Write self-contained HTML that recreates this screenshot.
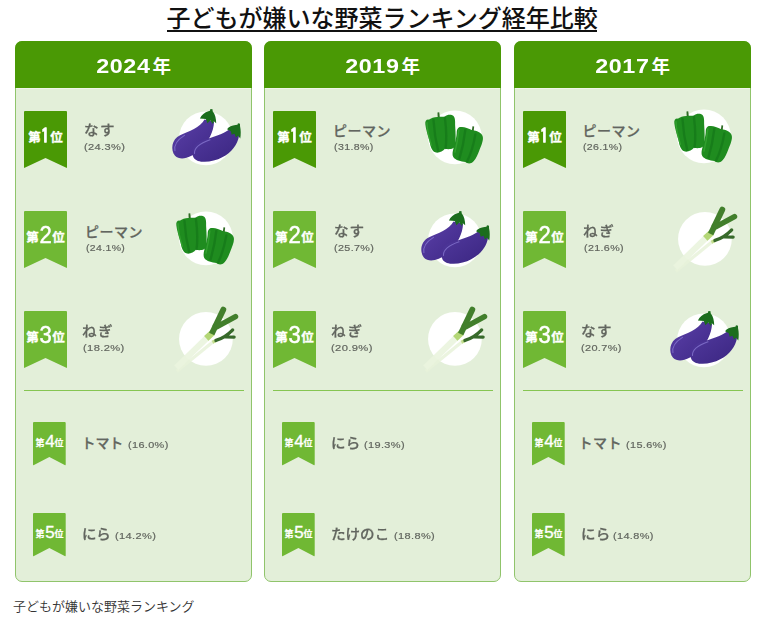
<!DOCTYPE html>
<html lang="ja">
<head>
<meta charset="utf-8">
<title>子どもが嫌いな野菜ランキング経年比較</title>
<style>
html,body{margin:0;padding:0;background:#fff;}
body{width:771px;height:636px;position:relative;overflow:hidden;font-family:"Liberation Sans","Noto Sans CJK JP",sans-serif;}
.title{position:absolute;left:166.5px;top:3px;height:32px;font-size:24px;line-height:32px;font-weight:500;color:#111;white-space:nowrap;letter-spacing:0;}
.uline{position:absolute;left:167px;top:30px;width:430px;height:2px;background:#111;}
.panel{position:absolute;top:41px;width:237px;height:541px;box-sizing:border-box;border:1px solid #90c46b;border-radius:7px;background:#e3efd9;}
.hd{position:absolute;left:-1px;top:-1px;right:-1px;height:47px;border-radius:7px 7px 0 0;background:#4a9905;color:#fff;text-align:center;font-weight:bold;line-height:50px;white-space:nowrap;}
.hl{position:absolute;left:0;right:0;top:46px;height:1px;background:rgba(255,255,255,.45);}
.hd .d{display:inline-block;font-size:21px;letter-spacing:.5px;transform:scaleX(1.11);margin:0 4.4px 0 3.5px;}
.hd .y{display:inline-block;font-size:18.5px;}
.badge{position:absolute;left:8px;width:43px;height:57px;}
.badge svg,.sb svg{position:absolute;left:0;top:0;}
.badge .t{position:absolute;left:0;top:0;width:43px;height:47px;color:#fff;font-weight:bold;text-align:center;white-space:nowrap;line-height:55px;font-size:12.5px;-webkit-text-stroke:.3px #fff;}
.badge .t b{display:inline-block;font-size:24px;font-weight:normal;-webkit-text-stroke:.5px #fff;vertical-align:-0.7px;transform:scaleX(.92);margin:0 .4px 0 -.1px;line-height:20px;}
.badge .t b.one{font-family:"IPAGothic","NanumGothic",sans-serif;font-weight:bold;-webkit-text-stroke:.4px #fff;font-size:20.3px;transform:scaleX(.82);margin:0 -.2px 0 -.3px;vertical-align:-0.8px;}
.sb{position:absolute;left:17px;width:33px;height:44px;}
.sb .t{position:absolute;left:0;top:0;width:33px;height:36px;color:#fff;font-weight:bold;text-align:center;white-space:nowrap;line-height:42px;font-size:9px;-webkit-text-stroke:.2px #fff;}
.sb .t b{display:inline-block;font-size:17px;font-weight:normal;-webkit-text-stroke:.35px #fff;vertical-align:-0.5px;margin:0 -.2px 0 .9px;line-height:16px;}
.nm{position:absolute;font-size:14px;font-weight:500;-webkit-text-stroke:.25px #62665f;color:#62665f;white-space:nowrap;line-height:18px;transform-origin:0 50%;}
.pc{position:absolute;font-size:9px;color:#62665f;white-space:nowrap;line-height:12px;letter-spacing:.3px;font-weight:normal;-webkit-text-stroke:.18px #62665f;transform-origin:0 50%;}
.hr{position:absolute;left:7.5px;right:7.5px;top:347.5px;height:1px;background:#86c552;}
.ic{position:absolute;left:149px;width:90px;height:75px;}
.cap{position:absolute;left:13px;top:597px;font-size:13px;font-weight:350;line-height:20px;color:#333;white-space:nowrap;}
</style>
</head>
<body>
<svg width="0" height="0" style="position:absolute"><defs>
<linearGradient id="gE1" x1="0" y1="0" x2="1" y2="1"><stop offset="0" stop-color="#5b40a8"/><stop offset="1" stop-color="#3e2886"/></linearGradient>
<linearGradient id="gE2" x1="0" y1="0" x2="1" y2="1"><stop offset="0" stop-color="#523a9f"/><stop offset="1" stop-color="#3a2580"/></linearGradient>
<filter id="fB" x="-10%" y="-10%" width="120%" height="120%"><feGaussianBlur stdDeviation="4"/></filter>
</defs></svg>
<div class="title">子どもが嫌いな野菜ランキング経年比較</div>
<div class="uline"></div>

<div class="panel" style="left:15px">
  <div class="hd"><span class="d">2024</span><span class="y">年</span></div><div class="hl"></div>
  <div class="badge" style="top:69px"><svg width="43" height="57"><path d="M1 0H42Q43 0 43 1V56Q43 57.5 41.8 56.6L21.5 47L1.2 56.6Q0 57.5 0 56V1Q0 0 1 0Z" fill="#4a9905"/></svg><div class="t">第<b class="one">1</b>位</div></div>
  <div class="nm" style="left:67.92px;top:79.1px;letter-spacing:1.41px;transform:scaleX(1.04);">なす</div>
  <div class="pc" style="left:68.38px;top:99.1px;transform:scaleX(1.231)">(24.3%)</div>
  <div class="ic" style="left:149.0px;top:58.0px"><svg width="90" height="75" viewBox="0 0 763 636">
<circle cx="347" cy="325" r="228" fill="#fff" filter="url(#fB)"/>
<path d="M335 165C300 230 200 268 128 298C55 330 45 425 85 472C130 520 225 490 295 425C372 352 412 270 416 185Z" fill="url(#gE1)"/>
<path d="M84 430C76 385 100 340 165 300" fill="none" stroke="#8675cf" stroke-width="9" stroke-linecap="round" opacity=".8"/>
<path d="M296 156C308 128 338 104 368 96L381 92L385 76L403 79L404 96C426 122 434 160 434 198L414 180L405 204L384 174L360 197L346 162Z" fill="#1b6d1d"/>
<path d="M548 248C490 290 400 318 324 340C238 365 214 436 243 489C276 542 405 530 485 486C565 442 615 380 628 300Z" fill="url(#gE2)"/>
<path d="M250 454C246 405 296 368 382 338" fill="none" stroke="#8675cf" stroke-width="9" stroke-linecap="round" opacity=".8"/>
<path d="M526 248C540 228 570 214 598 212L614 210L619 198L636 202L636 220C644 255 644 292 638 326L619 300L602 317L589 286L565 295L558 264Z" fill="#1b6d1d"/>
</svg></div>
  <div class="badge" style="top:169px"><svg width="43" height="57"><path d="M1 0H42Q43 0 43 1V56Q43 57.5 41.8 56.6L21.5 47L1.2 56.6Q0 57.5 0 56V1Q0 0 1 0Z" fill="#70b834"/></svg><div class="t">第<b>2</b>位</div></div>
  <div class="nm" style="left:68.97px;top:180.9px;letter-spacing:0.53px;">ピーマン</div>
  <div class="pc" style="left:69.72px;top:200.2px;transform:scaleX(1.166)">(24.1%)</div>
  <div class="ic" style="left:149.0px;top:158.0px"><svg width="90" height="75" viewBox="0 0 763 636">
<circle cx="347" cy="325" r="228" fill="#fff" filter="url(#fB)"/>
<path d="M201 158L199 114L214 113L219 158Z" fill="#2f6b25"/>
<path d="M96 215C92 190 105 172 125 175C145 160 175 150 205 152C225 150 245 152 262 148C280 130 320 128 335 145C352 165 348 200 349 230C352 280 356 340 350 390C345 425 300 430 262 422C245 445 205 462 180 452C150 440 140 400 132 360C118 310 100 260 96 215Z" fill="#1f8c1f"/>
<path d="M110 200C110 260 127 330 147 392" fill="none" stroke="#37a533" stroke-width="12" stroke-linecap="round" opacity=".8"/>
<path d="M165 178C170 260 185 360 205 440" fill="none" stroke="#15781a" stroke-width="20" stroke-linecap="round" opacity=".75"/>
<path d="M262 160C272 240 278 340 268 415" fill="none" stroke="#15781a" stroke-width="20" stroke-linecap="round" opacity=".75"/>
<path d="M490 270L496 231L510 234L506 274Z" fill="#2f6b25"/>
<path d="M362 290C362 255 375 235 400 238C425 235 460 250 494 266C530 268 572 285 582 315C592 345 572 390 556 430C540 470 528 505 505 528C485 552 455 552 435 535C400 530 350 520 333 492C318 465 335 420 345 380C355 340 360 320 362 290Z" fill="#1f8c1f"/>
<path d="M380 262C374 320 362 390 347 450" fill="none" stroke="#37a533" stroke-width="12" stroke-linecap="round" opacity=".8"/>
<path d="M435 262C425 350 405 440 385 505" fill="none" stroke="#15781a" stroke-width="20" stroke-linecap="round" opacity=".75"/>
<path d="M520 300C505 390 480 470 450 530" fill="none" stroke="#15781a" stroke-width="20" stroke-linecap="round" opacity=".75"/>
</svg></div>
  <div class="badge" style="top:269px"><svg width="43" height="57"><path d="M1 0H42Q43 0 43 1V56Q43 57.5 41.8 56.6L21.5 47L1.2 56.6Q0 57.5 0 56V1Q0 0 1 0Z" fill="#70b834"/></svg><div class="t">第<b>3</b>位</div></div>
  <div class="nm" style="left:66.19px;top:279.9px;letter-spacing:1.38px;transform:scaleX(1.04);">ねぎ</div>
  <div class="pc" style="left:66.58px;top:300.3px;transform:scaleX(1.237)">(18.2%)</div>
  <div class="ic" style="left:149.0px;top:258.0px"><svg width="90" height="75" viewBox="0 0 763 636">
<circle cx="347" cy="330" r="228" fill="#fff" filter="url(#fB)"/>
<path d="M100 605L408 354" stroke="#e7f2d9" stroke-opacity=".85" stroke-width="28" fill="none"/>
<path d="M402 358L436 341" stroke="#c3dd8d" stroke-width="28" fill="none"/>
<path d="M432 343C480 330 530 300 574 254M512 312L586 314" stroke="#386a2b" stroke-width="28" fill="none" stroke-linecap="round" stroke-linejoin="round"/>
<path d="M95 575L368 309" stroke="#eaf4de" stroke-opacity=".9" stroke-width="52" fill="none"/>
<path d="M350 326L403 277" stroke="#b4d776" stroke-width="54" fill="none"/>
<path d="M430 216L494 82" stroke="#427f2c" stroke-width="50" fill="none" stroke-linecap="round"/>
<path d="M396 288L432 212" stroke="#427f2c" stroke-width="50" fill="none"/>
<path d="M438 228L598 140" stroke="#427f2c" stroke-width="46" fill="none" stroke-linecap="round"/>
</svg></div>
  <div class="hr"></div>
  <div class="sb" style="top:380px"><svg width="33" height="44"><path d="M1 0H31.7Q32.7 0 32.7 1V42.2Q32.7 43.6 31.7 42.9L16.35 35L1 42.9Q0 43.6 0 42.2V1Q0 0 1 0Z" fill="#70b834"/></svg><div class="t">第<b>4</b>位</div></div>
  <div class="nm" style="left:65.60px;top:392.4px;letter-spacing:-0.15px;">トマト</div>
  <div class="pc" style="left:112.20px;top:396.8px;transform:scaleX(1.209)">(16.0%)</div>
  <div class="sb" style="top:471px"><svg width="33" height="44"><path d="M1 0H31.7Q32.7 0 32.7 1V42.2Q32.7 43.6 31.7 42.9L16.35 35L1 42.9Q0 43.6 0 42.2V1Q0 0 1 0Z" fill="#70b834"/></svg><div class="t">第<b>5</b>位</div></div>
  <div class="nm" style="left:66.19px;top:483.0px;letter-spacing:-0.16px;transform:scaleX(1.035);">にら</div>
  <div class="pc" style="left:99.29px;top:488.0px;transform:scaleX(1.228)">(14.2%)</div>
</div>
<div class="panel" style="left:264px">
  <div class="hd"><span class="d">2019</span><span class="y">年</span></div><div class="hl"></div>
  <div class="badge" style="top:69px"><svg width="43" height="57"><path d="M1 0H42Q43 0 43 1V56Q43 57.5 41.8 56.6L21.5 47L1.2 56.6Q0 57.5 0 56V1Q0 0 1 0Z" fill="#4a9905"/></svg><div class="t">第<b class="one">1</b>位</div></div>
  <div class="nm" style="left:67.97px;top:79.9px;letter-spacing:0.53px;">ピーマン</div>
  <div class="pc" style="left:68.51px;top:99.1px;transform:scaleX(1.178)">(31.8%)</div>
  <div class="ic" style="left:149.0px;top:56.5px"><svg width="90" height="75" viewBox="0 0 763 636">
<circle cx="347" cy="325" r="228" fill="#fff" filter="url(#fB)"/>
<path d="M201 158L199 114L214 113L219 158Z" fill="#2f6b25"/>
<path d="M96 215C92 190 105 172 125 175C145 160 175 150 205 152C225 150 245 152 262 148C280 130 320 128 335 145C352 165 348 200 349 230C352 280 356 340 350 390C345 425 300 430 262 422C245 445 205 462 180 452C150 440 140 400 132 360C118 310 100 260 96 215Z" fill="#1f8c1f"/>
<path d="M110 200C110 260 127 330 147 392" fill="none" stroke="#37a533" stroke-width="12" stroke-linecap="round" opacity=".8"/>
<path d="M165 178C170 260 185 360 205 440" fill="none" stroke="#15781a" stroke-width="20" stroke-linecap="round" opacity=".75"/>
<path d="M262 160C272 240 278 340 268 415" fill="none" stroke="#15781a" stroke-width="20" stroke-linecap="round" opacity=".75"/>
<path d="M490 270L496 231L510 234L506 274Z" fill="#2f6b25"/>
<path d="M362 290C362 255 375 235 400 238C425 235 460 250 494 266C530 268 572 285 582 315C592 345 572 390 556 430C540 470 528 505 505 528C485 552 455 552 435 535C400 530 350 520 333 492C318 465 335 420 345 380C355 340 360 320 362 290Z" fill="#1f8c1f"/>
<path d="M380 262C374 320 362 390 347 450" fill="none" stroke="#37a533" stroke-width="12" stroke-linecap="round" opacity=".8"/>
<path d="M435 262C425 350 405 440 385 505" fill="none" stroke="#15781a" stroke-width="20" stroke-linecap="round" opacity=".75"/>
<path d="M520 300C505 390 480 470 450 530" fill="none" stroke="#15781a" stroke-width="20" stroke-linecap="round" opacity=".75"/>
</svg></div>
  <div class="badge" style="top:169px"><svg width="43" height="57"><path d="M1 0H42Q43 0 43 1V56Q43 57.5 41.8 56.6L21.5 47L1.2 56.6Q0 57.5 0 56V1Q0 0 1 0Z" fill="#70b834"/></svg><div class="t">第<b>2</b>位</div></div>
  <div class="nm" style="left:68.72px;top:180.1px;letter-spacing:1.02px;transform:scaleX(1.04);">なす</div>
  <div class="pc" style="left:69.20px;top:200.2px;transform:scaleX(1.197)">(25.7%)</div>
  <div class="ic" style="left:149.0px;top:160.0px"><svg width="90" height="75" viewBox="0 0 763 636">
<circle cx="347" cy="325" r="228" fill="#fff" filter="url(#fB)"/>
<path d="M335 165C300 230 200 268 128 298C55 330 45 425 85 472C130 520 225 490 295 425C372 352 412 270 416 185Z" fill="url(#gE1)"/>
<path d="M84 430C76 385 100 340 165 300" fill="none" stroke="#8675cf" stroke-width="9" stroke-linecap="round" opacity=".8"/>
<path d="M296 156C308 128 338 104 368 96L381 92L385 76L403 79L404 96C426 122 434 160 434 198L414 180L405 204L384 174L360 197L346 162Z" fill="#1b6d1d"/>
<path d="M548 248C490 290 400 318 324 340C238 365 214 436 243 489C276 542 405 530 485 486C565 442 615 380 628 300Z" fill="url(#gE2)"/>
<path d="M250 454C246 405 296 368 382 338" fill="none" stroke="#8675cf" stroke-width="9" stroke-linecap="round" opacity=".8"/>
<path d="M526 248C540 228 570 214 598 212L614 210L619 198L636 202L636 220C644 255 644 292 638 326L619 300L602 317L589 286L565 295L558 264Z" fill="#1b6d1d"/>
</svg></div>
  <div class="badge" style="top:269px"><svg width="43" height="57"><path d="M1 0H42Q43 0 43 1V56Q43 57.5 41.8 56.6L21.5 47L1.2 56.6Q0 57.5 0 56V1Q0 0 1 0Z" fill="#70b834"/></svg><div class="t">第<b>3</b>位</div></div>
  <div class="nm" style="left:65.59px;top:279.9px;letter-spacing:1.76px;transform:scaleX(1.04);">ねぎ</div>
  <div class="pc" style="left:66.08px;top:300.3px;transform:scaleX(1.243)">(20.9%)</div>
  <div class="ic" style="left:149.0px;top:258.0px"><svg width="90" height="75" viewBox="0 0 763 636">
<circle cx="347" cy="330" r="228" fill="#fff" filter="url(#fB)"/>
<path d="M100 605L408 354" stroke="#e7f2d9" stroke-opacity=".85" stroke-width="28" fill="none"/>
<path d="M402 358L436 341" stroke="#c3dd8d" stroke-width="28" fill="none"/>
<path d="M432 343C480 330 530 300 574 254M512 312L586 314" stroke="#386a2b" stroke-width="28" fill="none" stroke-linecap="round" stroke-linejoin="round"/>
<path d="M95 575L368 309" stroke="#eaf4de" stroke-opacity=".9" stroke-width="52" fill="none"/>
<path d="M350 326L403 277" stroke="#b4d776" stroke-width="54" fill="none"/>
<path d="M430 216L494 82" stroke="#427f2c" stroke-width="50" fill="none" stroke-linecap="round"/>
<path d="M396 288L432 212" stroke="#427f2c" stroke-width="50" fill="none"/>
<path d="M438 228L598 140" stroke="#427f2c" stroke-width="46" fill="none" stroke-linecap="round"/>
</svg></div>
  <div class="hr"></div>
  <div class="sb" style="top:380px"><svg width="33" height="44"><path d="M1 0H31.7Q32.7 0 32.7 1V42.2Q32.7 43.6 31.7 42.9L16.35 35L1 42.9Q0 43.6 0 42.2V1Q0 0 1 0Z" fill="#70b834"/></svg><div class="t">第<b>4</b>位</div></div>
  <div class="nm" style="left:65.79px;top:391.9px;letter-spacing:0.23px;transform:scaleX(1.035);">にら</div>
  <div class="pc" style="left:98.79px;top:396.8px;transform:scaleX(1.218)">(19.3%)</div>
  <div class="sb" style="top:471px"><svg width="33" height="44"><path d="M1 0H31.7Q32.7 0 32.7 1V42.2Q32.7 43.6 31.7 42.9L16.35 35L1 42.9Q0 43.6 0 42.2V1Q0 0 1 0Z" fill="#70b834"/></svg><div class="t">第<b>5</b>位</div></div>
  <div class="nm" style="left:66.05px;top:483.3px;letter-spacing:0.00px;transform:scaleX(1.04);">たけのこ</div>
  <div class="pc" style="left:129.09px;top:488.0px;transform:scaleX(1.222)">(18.8%)</div>
</div>
<div class="panel" style="left:514px">
  <div class="hd"><span class="d">2017</span><span class="y">年</span></div><div class="hl"></div>
  <div class="badge" style="top:69px"><svg width="43" height="57"><path d="M1 0H42Q43 0 43 1V56Q43 57.5 41.8 56.6L21.5 47L1.2 56.6Q0 57.5 0 56V1Q0 0 1 0Z" fill="#4a9905"/></svg><div class="t">第<b class="one">1</b>位</div></div>
  <div class="nm" style="left:67.47px;top:79.9px;letter-spacing:0.53px;">ピーマン</div>
  <div class="pc" style="left:67.91px;top:99.1px;transform:scaleX(1.172)">(26.1%)</div>
  <div class="ic" style="left:148.0px;top:56.3px"><svg width="90" height="75" viewBox="0 0 763 636">
<circle cx="347" cy="325" r="228" fill="#fff" filter="url(#fB)"/>
<path d="M201 158L199 114L214 113L219 158Z" fill="#2f6b25"/>
<path d="M96 215C92 190 105 172 125 175C145 160 175 150 205 152C225 150 245 152 262 148C280 130 320 128 335 145C352 165 348 200 349 230C352 280 356 340 350 390C345 425 300 430 262 422C245 445 205 462 180 452C150 440 140 400 132 360C118 310 100 260 96 215Z" fill="#1f8c1f"/>
<path d="M110 200C110 260 127 330 147 392" fill="none" stroke="#37a533" stroke-width="12" stroke-linecap="round" opacity=".8"/>
<path d="M165 178C170 260 185 360 205 440" fill="none" stroke="#15781a" stroke-width="20" stroke-linecap="round" opacity=".75"/>
<path d="M262 160C272 240 278 340 268 415" fill="none" stroke="#15781a" stroke-width="20" stroke-linecap="round" opacity=".75"/>
<path d="M490 270L496 231L510 234L506 274Z" fill="#2f6b25"/>
<path d="M362 290C362 255 375 235 400 238C425 235 460 250 494 266C530 268 572 285 582 315C592 345 572 390 556 430C540 470 528 505 505 528C485 552 455 552 435 535C400 530 350 520 333 492C318 465 335 420 345 380C355 340 360 320 362 290Z" fill="#1f8c1f"/>
<path d="M380 262C374 320 362 390 347 450" fill="none" stroke="#37a533" stroke-width="12" stroke-linecap="round" opacity=".8"/>
<path d="M435 262C425 350 405 440 385 505" fill="none" stroke="#15781a" stroke-width="20" stroke-linecap="round" opacity=".75"/>
<path d="M520 300C505 390 480 470 450 530" fill="none" stroke="#15781a" stroke-width="20" stroke-linecap="round" opacity=".75"/>
</svg></div>
  <div class="badge" style="top:169px"><svg width="43" height="57"><path d="M1 0H42Q43 0 43 1V56Q43 57.5 41.8 56.6L21.5 47L1.2 56.6Q0 57.5 0 56V1Q0 0 1 0Z" fill="#70b834"/></svg><div class="t">第<b>2</b>位</div></div>
  <div class="nm" style="left:68.29px;top:179.7px;letter-spacing:1.67px;transform:scaleX(1.04);">ねぎ</div>
  <div class="pc" style="left:68.71px;top:200.2px;transform:scaleX(1.188)">(21.6%)</div>
  <div class="ic" style="left:148.5px;top:158.0px"><svg width="90" height="75" viewBox="0 0 763 636">
<circle cx="347" cy="330" r="228" fill="#fff" filter="url(#fB)"/>
<path d="M100 605L408 354" stroke="#e7f2d9" stroke-opacity=".85" stroke-width="28" fill="none"/>
<path d="M402 358L436 341" stroke="#c3dd8d" stroke-width="28" fill="none"/>
<path d="M432 343C480 330 530 300 574 254M512 312L586 314" stroke="#386a2b" stroke-width="28" fill="none" stroke-linecap="round" stroke-linejoin="round"/>
<path d="M95 575L368 309" stroke="#eaf4de" stroke-opacity=".9" stroke-width="52" fill="none"/>
<path d="M350 326L403 277" stroke="#b4d776" stroke-width="54" fill="none"/>
<path d="M430 216L494 82" stroke="#427f2c" stroke-width="50" fill="none" stroke-linecap="round"/>
<path d="M396 288L432 212" stroke="#427f2c" stroke-width="50" fill="none"/>
<path d="M438 228L598 140" stroke="#427f2c" stroke-width="46" fill="none" stroke-linecap="round"/>
</svg></div>
  <div class="badge" style="top:269px"><svg width="43" height="57"><path d="M1 0H42Q43 0 43 1V56Q43 57.5 41.8 56.6L21.5 47L1.2 56.6Q0 57.5 0 56V1Q0 0 1 0Z" fill="#70b834"/></svg><div class="t">第<b>3</b>位</div></div>
  <div class="nm" style="left:65.62px;top:280.3px;letter-spacing:1.31px;transform:scaleX(1.04);">なす</div>
  <div class="pc" style="left:66.09px;top:300.3px;transform:scaleX(1.212)">(20.7%)</div>
  <div class="ic" style="left:148.0px;top:260.2px"><svg width="90" height="75" viewBox="0 0 763 636">
<circle cx="347" cy="325" r="228" fill="#fff" filter="url(#fB)"/>
<path d="M335 165C300 230 200 268 128 298C55 330 45 425 85 472C130 520 225 490 295 425C372 352 412 270 416 185Z" fill="url(#gE1)"/>
<path d="M84 430C76 385 100 340 165 300" fill="none" stroke="#8675cf" stroke-width="9" stroke-linecap="round" opacity=".8"/>
<path d="M296 156C308 128 338 104 368 96L381 92L385 76L403 79L404 96C426 122 434 160 434 198L414 180L405 204L384 174L360 197L346 162Z" fill="#1b6d1d"/>
<path d="M548 248C490 290 400 318 324 340C238 365 214 436 243 489C276 542 405 530 485 486C565 442 615 380 628 300Z" fill="url(#gE2)"/>
<path d="M250 454C246 405 296 368 382 338" fill="none" stroke="#8675cf" stroke-width="9" stroke-linecap="round" opacity=".8"/>
<path d="M526 248C540 228 570 214 598 212L614 210L619 198L636 202L636 220C644 255 644 292 638 326L619 300L602 317L589 286L565 295L558 264Z" fill="#1b6d1d"/>
</svg></div>
  <div class="hr"></div>
  <div class="sb" style="top:380px"><svg width="33" height="44"><path d="M1 0H31.7Q32.7 0 32.7 1V42.2Q32.7 43.6 31.7 42.9L16.35 35L1 42.9Q0 43.6 0 42.2V1Q0 0 1 0Z" fill="#70b834"/></svg><div class="t">第<b>4</b>位</div></div>
  <div class="nm" style="left:63.60px;top:392.4px;letter-spacing:0.40px;">トマト</div>
  <div class="pc" style="left:111.40px;top:396.8px;transform:scaleX(1.209)">(15.6%)</div>
  <div class="sb" style="top:471px"><svg width="33" height="44"><path d="M1 0H31.7Q32.7 0 32.7 1V42.2Q32.7 43.6 31.7 42.9L16.35 35L1 42.9Q0 43.6 0 42.2V1Q0 0 1 0Z" fill="#70b834"/></svg><div class="t">第<b>5</b>位</div></div>
  <div class="nm" style="left:65.59px;top:483.0px;letter-spacing:0.23px;transform:scaleX(1.035);">にら</div>
  <div class="pc" style="left:98.49px;top:488.0px;transform:scaleX(1.212)">(14.8%)</div>
</div>
<div class="cap">子どもが嫌いな野菜ランキング</div>
</body>
</html>
